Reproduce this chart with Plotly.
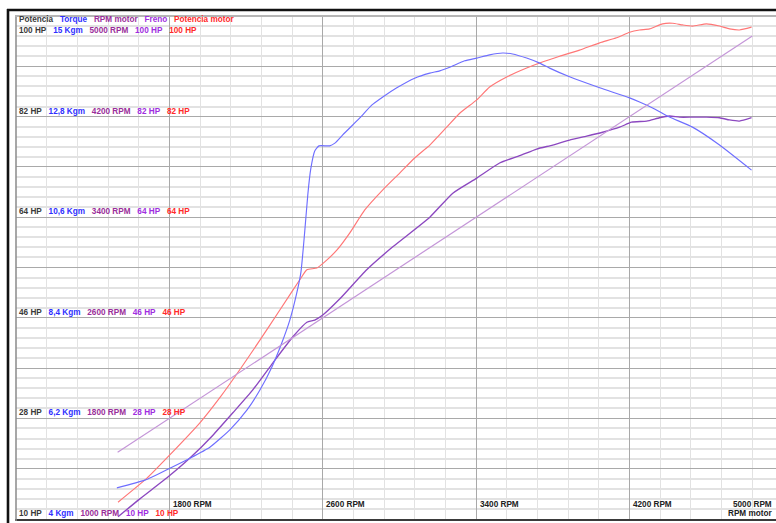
import plotly.graph_objects as go

# ---- dyno run readings -------------------------------------------------
torque_rpm = [1526, 1672, 1792, 1907, 2011, 2115, 2204, 2272, 2334, 2386, 2428, 2464,
              2486, 2506, 2522, 2537, 2558, 2580, 2636, 2663, 2704, 2793, 2855, 2913,
              2986, 3079, 3158, 3210, 3262, 3340, 3403, 3470, 3538, 3590, 3663, 3731,
              3783, 3887, 4044, 4200, 4252, 4320, 4408, 4528, 4669, 4836]
torque_kgm = [4.68, 4.85, 5.09, 5.33, 5.57, 5.95, 6.38, 6.82, 7.32, 7.85, 8.35, 8.94,
              9.40, 10.30, 11.10, 11.65, 12.05, 12.16, 12.16, 12.22, 12.40, 12.77, 13.05, 13.23,
              13.43, 13.64, 13.75, 13.80, 13.88, 14.02, 14.08, 14.15, 14.19, 14.17, 14.08, 13.97,
              13.86, 13.67, 13.43, 13.21, 13.12, 12.99, 12.79, 12.57, 12.18, 11.63]

motor_rpm = [1532, 1683, 1792, 1959, 2063, 2167, 2272, 2376, 2480, 2517, 2569, 2610,
             2673, 2741, 2819, 2913, 3001, 3079, 3158, 3246, 3314, 3403, 3470, 3559,
             3663, 3731, 3835, 3939, 4044, 4132, 4200, 4252, 4304, 4372, 4424, 4476,
             4528, 4601, 4669, 4721, 4773, 4836]
motor_hp = [13.0, 17.3, 21.1, 27.2, 31.7, 36.7, 42.0, 47.4, 52.8, 54.6, 54.9, 56.0,
            58.1, 61.2, 65.3, 68.9, 71.9, 74.6, 76.9, 80.1, 82.6, 85.0, 87.3, 89.1,
            90.7, 91.6, 92.8, 93.9, 95.2, 96.1, 97.1, 97.5, 97.7, 98.6, 98.7, 98.4,
            98.2, 98.6, 98.2, 97.7, 97.5, 98.0]

freno_rpm = [1532, 1646, 1792, 1907, 2027, 2131, 2235, 2339, 2444, 2517, 2558, 2600,
             2689, 2829, 2965, 3158, 3278, 3403, 3522, 3627, 3715, 3799, 3887, 3976,
             4059, 4148, 4210, 4289, 4356, 4408, 4460, 4528, 4601, 4669, 4721, 4773, 4836]
freno_hp = [10.4, 13.6, 17.5, 20.9, 25.0, 29.0, 33.1, 37.9, 42.6, 45.2, 45.6, 46.5,
            49.4, 54.6, 58.7, 64.0, 68.3, 71.0, 73.7, 75.0, 76.2, 76.9, 77.8, 78.5,
            79.2, 80.1, 81.0, 81.2, 81.8, 82.1, 81.9, 81.9, 81.9, 81.8, 81.4, 81.2, 81.8]

sweep_rpm = [1530, 4840]

# ---- scale labels ------------------------------------------------------
header = ["Potencia", "Torque", "RPM motor", "Freno", "Potencia motor"]
hp_ticks = [10, 28, 46, 64, 82, 100]
kgm_ticks = [4, 6.2, 8.4, 10.6, 12.8, 15]
rpm_ticks = [1000, 1800, 2600, 3400, 4200, 5000]
x_ticks = [1800, 2600, 3400, 4200, 5000]

C_HP = "#3a3a3a"
C_TQ = "#2f2fff"
C_RPM = "#9a2e9a"
C_FR = "#a02ee0"
C_PM = "#ff2a2a"
col_colors = [C_HP, C_TQ, C_RPM, C_FR, C_PM]

FONT = "Liberation Sans, Arial, sans-serif"
FS = 8.2

# plot area in pixels
W, H = 776, 523
L, T, B = 16, 16, 4
PW, PH = W - L, H - T - B


def px(xp):
    return (xp - L) / PW


def py(yp):
    return (H - B - yp) / PH


fig = go.Figure()

fig.add_trace(go.Scatter(x=sweep_rpm, y=sweep_rpm, yaxis="y3", mode="lines",
                         line=dict(color="#c495d8", width=1.2), name="RPM motor"))
fig.add_trace(go.Scatter(x=torque_rpm, y=torque_kgm, yaxis="y2", mode="lines",
                         line=dict(color="#6e6eff", width=1.15, shape="spline", smoothing=0.5),
                         name="Torque"))
fig.add_trace(go.Scatter(x=motor_rpm, y=motor_hp, mode="lines",
                         line=dict(color="#ff7676", width=1.15, shape="spline", smoothing=0.5),
                         name="Potencia motor"))
fig.add_trace(go.Scatter(x=freno_rpm, y=freno_hp, mode="lines",
                         line=dict(color="#8c48c0", width=1.35, shape="spline", smoothing=0.5),
                         name="Freno"))

x_lo = 1000
x_end = x_lo + 4000 * PW / 767

fig.update_layout(
    width=W, height=H,
    margin=dict(l=L, r=0, t=T, b=B, pad=0),
    paper_bgcolor="white", plot_bgcolor="white",
    showlegend=False,
    xaxis=dict(range=[x_lo, x_end], tick0=1000, dtick=800, showticklabels=False,
               ticks="", showgrid=True, gridcolor="#a9a9a9", gridwidth=1.4,
               zeroline=False, showline=False,
               minor=dict(tick0=1000, dtick=160, showgrid=True, gridcolor="#e2e2e2",
                          gridwidth=1.4, ticks="")),
    yaxis=dict(range=[10, 100], tick0=10, dtick=9, showticklabels=False, ticks="",
               showgrid=True, gridcolor="#a9a9a9", gridwidth=1.4, zeroline=False,
               minor=dict(tick0=10, dtick=1.8, showgrid=True, gridcolor="#e2e2e2",
                          gridwidth=1.5, ticks="")),
    yaxis2=dict(range=[4, 15], overlaying="y", visible=False),
    yaxis3=dict(range=[1000, 5000], overlaying="y", visible=False),
)


def fmt_kgm(v):
    s = ("%g" % v).replace(".", ",")
    return s + " Kgm"


def row(items):
    gap = "&nbsp;&nbsp;&nbsp;"
    return gap.join("<span style='color:%s'>%s</span>" % (c, t)
                    for t, c in zip(items, col_colors))


def rpm_to_paper(r):
    return min((r - x_lo) / (x_end - x_lo), px(774))


annotations = []
# column header
annotations.append(dict(xref="paper", yref="paper", x=px(17), y=py(20), xanchor="left",
                        yanchor="middle", showarrow=False, text=row(header)))
# value rows
for hp, kgm, rpm in zip(hp_ticks, kgm_ticks, rpm_ticks):
    items = ["%d HP" % hp, fmt_kgm(kgm), "%d RPM" % rpm, "%d HP" % hp, "%d HP" % hp]
    shift = -14 if hp == hp_ticks[-1] else 5.5
    annotations.append(dict(xref="paper", yref="y", x=px(17), y=hp, yshift=shift,
                            xanchor="left", yanchor="middle", showarrow=False,
                            text=row(items)))
# engine speed axis labels (the last one is kept inside the visible edge)
for r in x_ticks:
    last = r == x_ticks[-1]
    annotations.append(dict(xref="paper", yref="paper", x=rpm_to_paper(r), y=py(504),
                            xanchor="right" if last else "left", xshift=0 if last else 1.5,
                            yanchor="middle", showarrow=False,
                            text="%d RPM" % r, font=dict(color="#222222")))
annotations.append(dict(xref="paper", yref="paper", x=rpm_to_paper(x_ticks[-1]), y=py(513),
                        xanchor="right", yanchor="middle", showarrow=False,
                        text="RPM motor", font=dict(color="#222222")))

for a in annotations:
    f = a.get("font", {})
    f.update(family=FONT, size=FS, weight="bold")
    a["font"] = f
fig.update_layout(annotations=annotations)

# frame
frame = "#111111"
fig.add_shape(type="line", xref="paper", yref="paper", x0=px(8), x1=px(8),
              y0=py(9), y1=py(524), line=dict(color=frame, width=2.6))
fig.add_shape(type="line", xref="paper", yref="paper", x0=px(7), x1=px(780),
              y0=py(10), y1=py(10), line=dict(color=frame, width=2.6))
fig.add_shape(type="line", xref="paper", yref="paper", x0=px(15), x1=px(780),
              y0=py(520), y1=py(520), line=dict(color="#3a3a3a", width=2))
fig.add_shape(type="line", xref="paper", yref="paper", x0=px(16), x1=px(16),
              y0=py(15), y1=py(521), line=dict(color="#8a8a8a", width=1.5))
fig.add_shape(type="line", xref="paper", yref="paper", x0=px(15), x1=px(780),
              y0=py(16), y1=py(16), line=dict(color="#b5b5b5", width=2))

fig.write_html("out.html")
